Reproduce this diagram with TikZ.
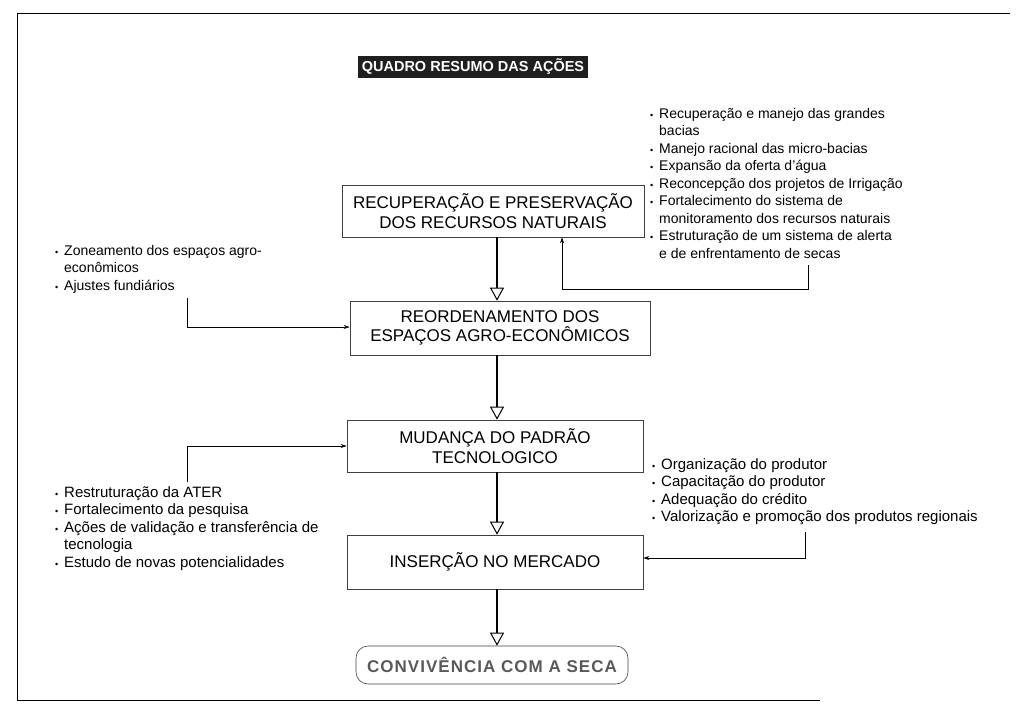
\documentclass[tikz,border=0pt]{standalone}
\usepackage{fontspec}
\setmainfont{Liberation Sans}
\usetikzlibrary{arrows.meta}
\newcommand{\bul}{\makebox[9pt][l]{\raisebox{0pt}{\small •}}}
\newcommand{\ind}{\hspace*{9pt}}

\begin{document}
\begin{tikzpicture}[x=1pt,y=1pt]
  \tikzstyle{every node}=[inner sep=0]
  \tikzstyle{etapa}=[draw=black!75,line width=0.6,rectangle,minimum width=296,minimum height=52,align=center,font=\fontsize{17}{19.5}\selectfont]
  \tikzstyle{lista}=[anchor=north west,align=left,font=\fontsize{14}{17.5}\selectfont]
  \tikzstyle{lista2}=[lista,font=\fontsize{15}{17.5}\selectfont]
  \tikzstyle{fluxo}=[line width=2.4,-{Triangle[open,length=13,width=14,line width=1]}]
  \tikzstyle{liga}=[line width=0.6,-{Stealth[length=6,width=4]}]

  \useasboundingbox (0,0) rectangle (1024,-708);
  % moldura
  \draw[line width=1] (1010,-14) -- (17,-14) -- (17,-700) -- (820,-700);

  \node[fill=black!88,text=white,minimum width=230,minimum height=22,inner xsep=3,font=\bfseries\fontsize{14.5}{17}\selectfont] (titulo) at (473,-67) {QUADRO RESUMO DAS AÇÕES};

  % etapas
  \node[etapa,minimum width=302] (recursos) at (493,-211) {RECUPERAÇÃO E PRESERVAÇÃO\\DOS RECURSOS NATURAIS};
  \node[etapa,minimum width=300,minimum height=54] (espacos) at (500,-328) {REORDENAMENTO DOS\\ESPAÇOS AGRO-ECONÔMICOS};
  \node[etapa] (padrao) at (495,-446) {MUDANÇA DO PADRÃO\\TECNOLOGICO};
  \node[etapa,minimum height=54] (mercado) at (495,-562) {INSERÇÃO NO MERCADO};
  \node[draw=black!75,line width=0.6,rounded corners=12,minimum width=272,minimum height=38,text=black!65,
        font=\bfseries\fontsize{17}{20}\selectfont\addfontfeature{LetterSpace=6}] (seca) at (492,-665) {CONVIVÊNCIA COM A SECA};

  \draw[fluxo] ([xshift=4]recursos.south) -- ([xshift=-3]espacos.north);
  \draw[fluxo] ([xshift=-3]espacos.south) -- ([xshift=2]padrao.north);
  \draw[fluxo] ([xshift=2]padrao.south) -- ([xshift=2]mercado.north);
  \draw[fluxo] ([xshift=2]mercado.south) -- ([xshift=5]seca.north);

  % listas de acoes
  \node[lista] (listaRec) at (650,-108) {\bul Recuperação e manejo das grandes\\
    \ind bacias\\
    \bul Manejo racional das micro-bacias\\
    \bul Expansão da oferta d'água\\
    \bul Reconcepção dos projetos de Irrigação\\
    \bul Fortalecimento do sistema de\\
    \ind monitoramento dos recursos naturais\\
    \bul Estruturação de um sistema de alerta\\
    \ind e de enfrentamento de secas};
  \node[lista] (listaEsp) at (55,-245) {\bul Zoneamento dos espaços agro-\\
    \ind econômicos\\
    \bul Ajustes fundiários};
  \node[lista2] (listaTec) at (55,-486) {\bul Restruturação da ATER\\
    \bul Fortalecimento da pesquisa\\
    \bul Ações de validação e transferência de\\
    \ind tecnologia\\
    \bul Estudo de novas potencialidades};
  \node[lista2] (listaMer) at (652,-458) {\bul Organização do produtor\\
    \bul Capacitação do produtor\\
    \bul Adequação do crédito\\
    \bul Valorização e promoção dos produtos regionais};

  % ligacoes
  \coordinate (r1) at (808,-265);
  \coordinate (l1) at (187,-298);
  \coordinate (l2) at (187,-482);
  \coordinate (r2) at (805,-532);
  \draw[liga] (r1) -- ++(0,-24) -| ([xshift=69]recursos.south);
  \draw[liga] (l1) |- ([yshift=1]espacos.west);
  \draw[liga] (l2) |- (padrao.west);
  \draw[liga] (r2) |- ([yshift=4]mercado.east);
\end{tikzpicture}
\end{document}
